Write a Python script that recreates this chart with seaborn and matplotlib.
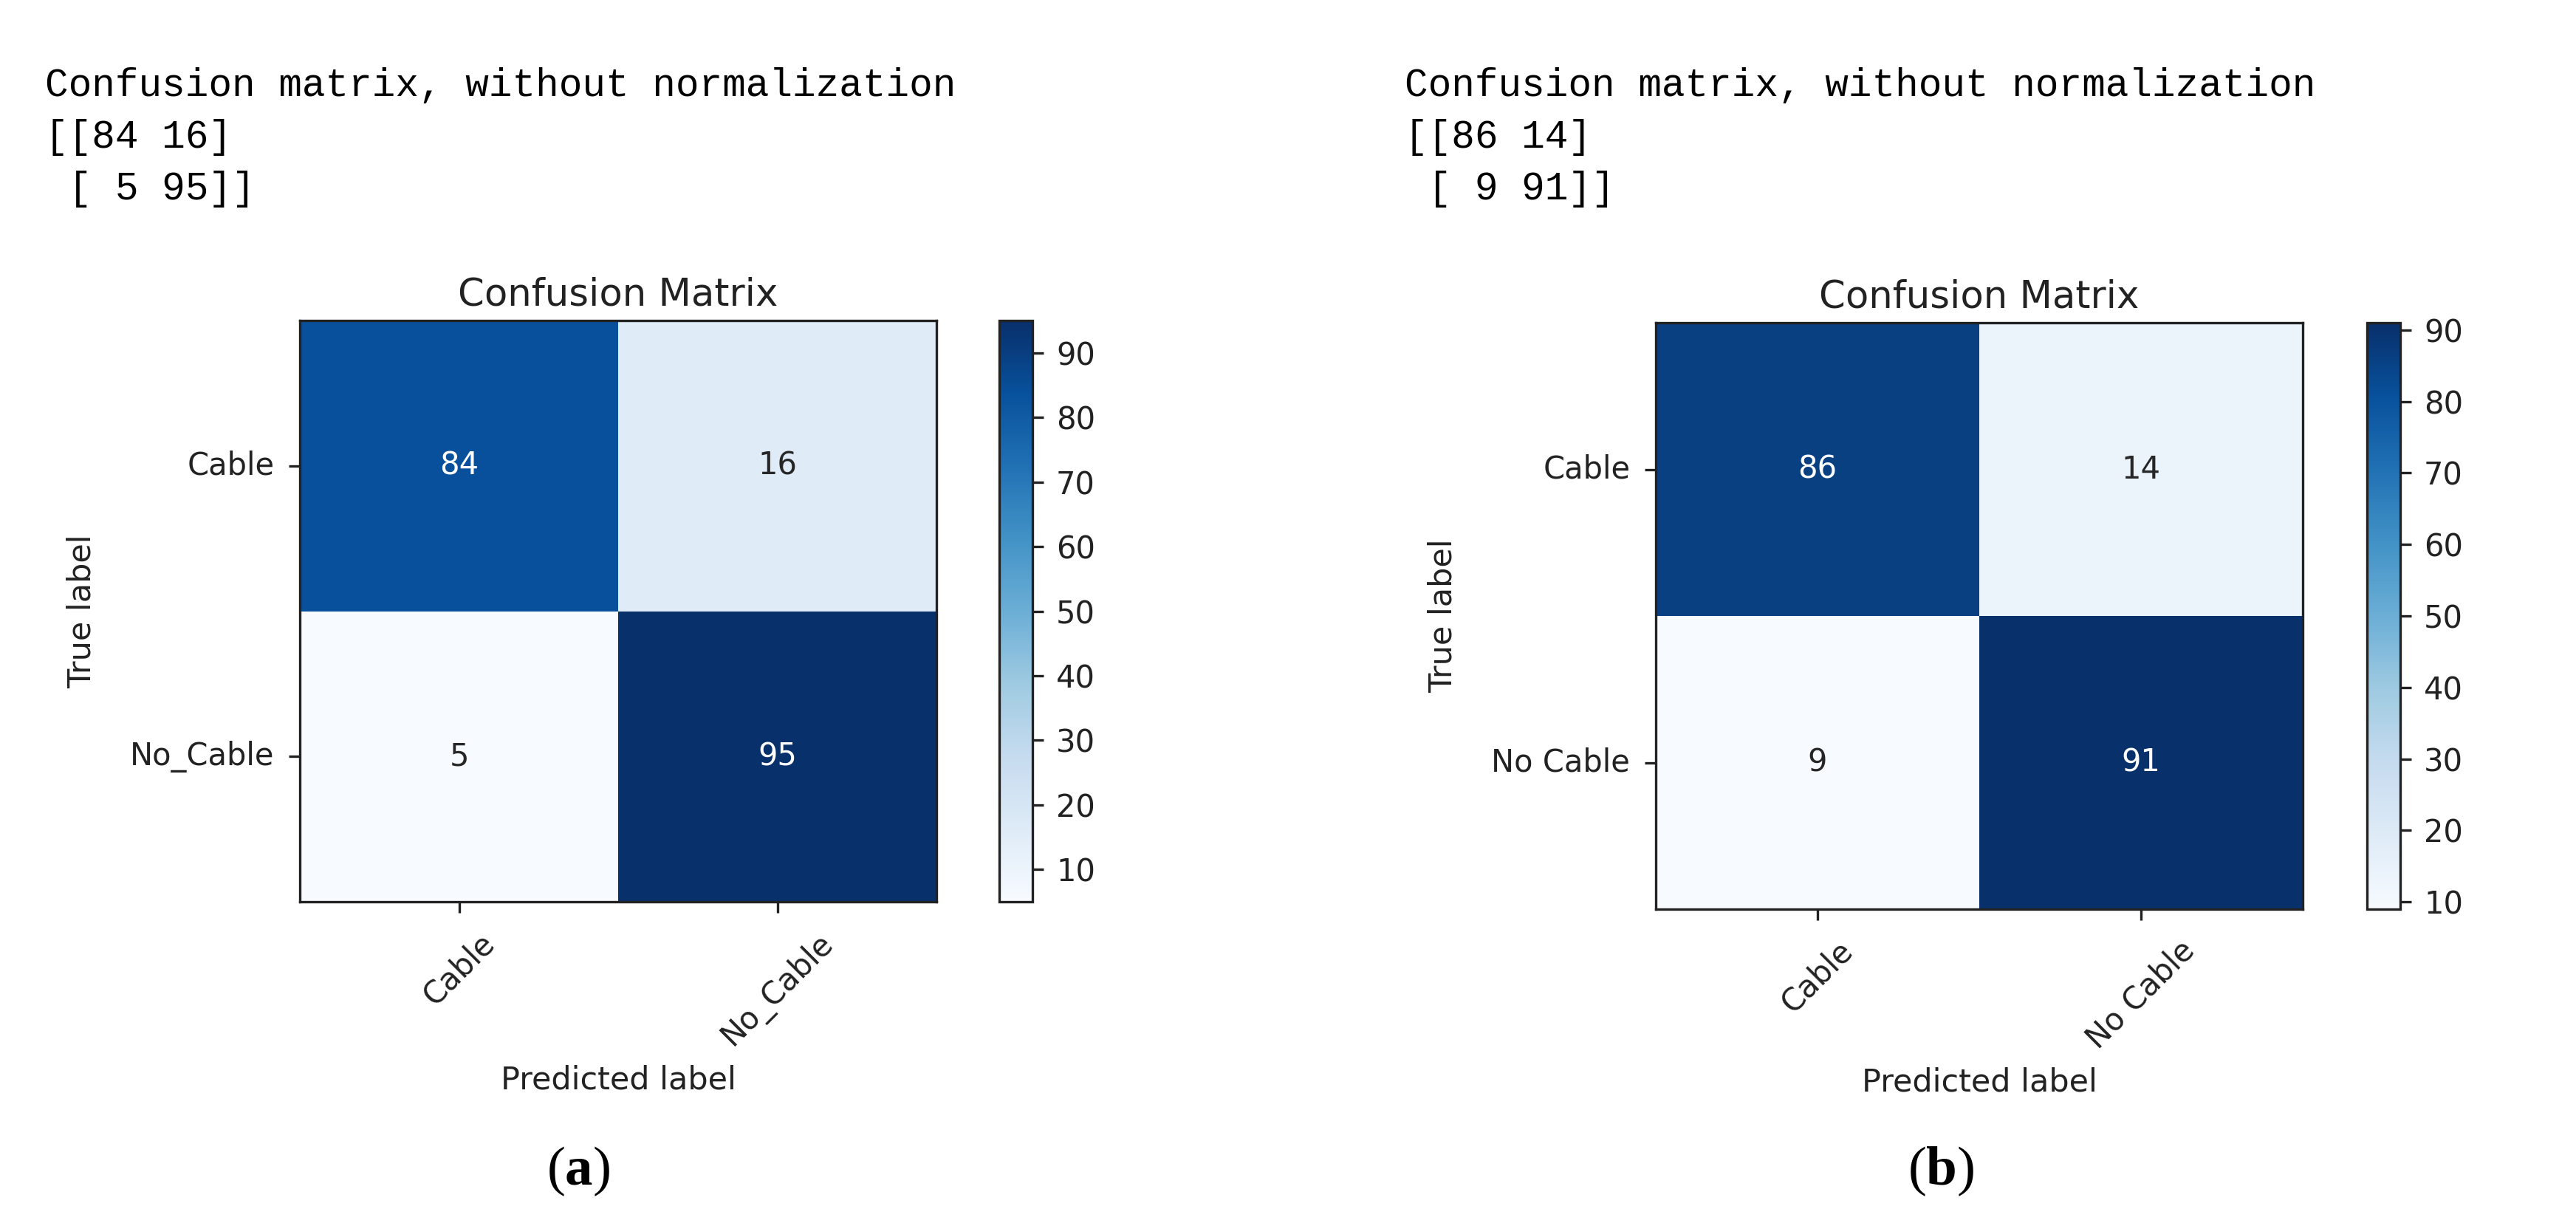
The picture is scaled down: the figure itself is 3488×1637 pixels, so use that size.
import matplotlib
matplotlib.use('Agg')
import matplotlib.pyplot as plt
import seaborn as sns
import numpy as np

# confusion matrices
cm_a = [[84, 16], [5, 95]]
cm_b = [[86, 14], [9, 91]]
classes_a = ['Cable', 'No_Cable']
classes_b = ['Cable', 'No Cable']
cbar_ticks = [10, 20, 30, 40, 50, 60, 70, 80, 90]
captions = ['a', 'b']

plt.rcParams['mathtext.fontset'] = 'custom'
plt.rcParams['mathtext.rm'] = 'Liberation Serif'
plt.rcParams['mathtext.bf'] = 'Liberation Serif:bold'

W, H = 3488, 1637
fig = plt.figure(figsize=(W / 100, H / 100), dpi=100)


def px(x0, y0, x1, y1):
    # pixel box -> figure fraction rect
    return [x0 / W, 1 - y1 / H, (x1 - x0) / W, (y1 - y0) / H]


def panel(cm, classes, ax_box, cb_box, txt_x, cap_x, cap):
    ax = fig.add_axes(px(*ax_box))
    cax = fig.add_axes(px(*cb_box))
    sns.heatmap(np.array(cm), annot=True, fmt='d', cmap='Blues', ax=ax, cbar_ax=cax,
                annot_kws={'size': 30}, cbar_kws={'ticks': cbar_ticks},
                xticklabels=classes, yticklabels=classes)
    for sp in ax.spines.values():
        sp.set_visible(True)
        sp.set_linewidth(2.4)
        sp.set_color('#222222')
    ax.tick_params(length=11, width=2.4, pad=14, labelsize=30, colors='#222222')
    ax.set_xticklabels(classes, rotation=45, ha='center')
    ax.set_yticklabels(classes, rotation=0, va='center')
    ax.set_title('Confusion Matrix', fontsize=37, color='#222222', pad=15)
    ax.set_ylabel('True label', fontsize=31, color='#222222', labelpad=32)
    ax.set_xlabel('Predicted label', fontsize=31, color='#222222', labelpad=12)
    cb = ax.collections[0].colorbar
    cb.outline.set_visible(True)
    cb.outline.set_linewidth(2.4)
    cb.outline.set_edgecolor('#222222')
    cax.tick_params(length=11, width=2.4, pad=12, labelsize=30, colors='#222222')

    lines = ['Confusion matrix, without normalization'] + str(np.array(cm)).split('\n')
    for i, line in enumerate(lines):
        fig.text(txt_x / W, 1 - (116 + 70 * i) / H, line, family='Liberation Mono',
                 fontsize=38, va='center', ha='left', color='black')
    fig.text(cap_x / W, 1 - 1586 / H, r'($\mathbf{%s}$)' % cap, family='Liberation Serif',
             fontsize=54, ha='center', va='center', color='black')


panel(cm_a, classes_a, (406, 434, 1268, 1221), (1353, 434, 1398, 1221), 61, 783, captions[0])
panel(cm_b, classes_b, (2242, 437, 3118, 1231), (3205, 437, 3250, 1231), 1902, 2628, captions[1])

fig.savefig('out.png', dpi=100, facecolor='white')
